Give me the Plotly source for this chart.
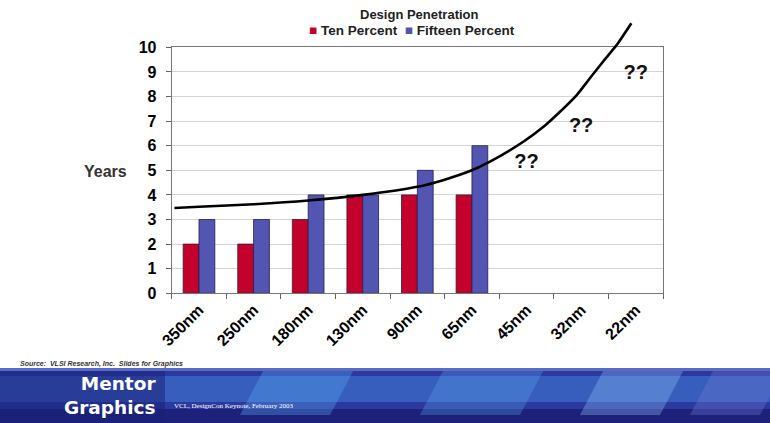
import plotly.graph_objects as go

# ---- data -------------------------------------------------------------
nodes = ["350nm", "250nm", "180nm", "130nm", "90nm", "65nm", "45nm", "32nm", "22nm"]
ten_percent = [2, 2, 3, 4, 4, 4, None, None, None]
fifteen_percent = [3, 3, 4, 4, 5, 6, None, None, None]

# trend curve: position along the node axis (0 = 350nm) and years
trend_pos = [-0.45, 0, 1, 2, 3, 4, 4.47, 5, 5.33, 5.94, 6.31, 6.55, 6.92, 7.16, 7.40, 7.65, 7.92]
trend_years = [3.47, 3.52, 3.62, 3.77, 4.0, 4.33, 4.6, 5.0, 5.35, 6.16, 6.77, 7.25, 8.06, 8.74, 9.41, 10.09, 10.98]

# unknown future nodes
unknown_nodes = ["45nm", "32nm", "22nm"]
unknown_years = [5.3, 6.75, 8.9]
unknown_text = ["??", "??", "??"]

series_names = ["Ten Percent", "Fifteen Percent"]
series_colors = ["#c4002c", "#5355b2"]

W, H = 770, 423
FONT = "Liberation Sans, Arial, sans-serif"

x_dom = [171.7 / W, 663 / W]
y_dom = [(H - 293.3) / H, (H - 47.3) / H]
y2_top = 1.0
y2_max = 10 * (y2_top - y_dom[0]) / (y_dom[1] - y_dom[0])


def py(p):
    return 1 - p / H


fig = go.Figure()

fig.add_trace(go.Bar(
    x=nodes, y=ten_percent, name=series_names[0], showlegend=False,
    marker=dict(color=series_colors[0], line=dict(color="#3a1a20", width=0.8)),
))
fig.add_trace(go.Bar(
    x=nodes, y=fifteen_percent, name=series_names[1], showlegend=False,
    marker=dict(color=series_colors[1], line=dict(color="#202050", width=0.8)),
))

# trend line lives on a taller overlay so it can run past the top gridline
fig.add_trace(go.Scatter(
    x=trend_pos, y=trend_years, mode="lines", xaxis="x2", yaxis="y2",
    line=dict(color="black", width=2.6, shape="spline", smoothing=0.6),
    showlegend=False, hoverinfo="skip",
))

fig.add_trace(go.Scatter(
    x=unknown_nodes, y=unknown_years, mode="text", text=unknown_text,
    textfont=dict(family=FONT, size=20, color="#111", weight="bold"),
    showlegend=False, hoverinfo="skip", cliponaxis=False,
))

# ---- banner ----------------------------------------------------------
shapes = []
top = 368

shapes.append(dict(type="rect", xref="paper", yref="paper", x0=0, x1=1,
                   y0=py(H), y1=py(top), fillcolor="#2c3aa0", line_width=0, layer="above"))
shapes.append(dict(type="rect", xref="paper", yref="paper", x0=0, x1=1,
                   y0=py(402), y1=py(376), fillcolor="rgba(70,140,225,0.45)", line_width=0, layer="above"))
shapes.append(dict(type="rect", xref="paper", yref="paper", x0=0, x1=1,
                   y0=py(H), y1=py(409), fillcolor="rgba(25,25,110,0.75)", line_width=0, layer="above"))
shapes.append(dict(type="rect", xref="paper", yref="paper", x0=0, x1=1,
                   y0=py(371), y1=py(top), fillcolor="rgba(120,140,220,0.6)", line_width=0, layer="above"))
for (xa, xb, col) in [(240 / W, 330 / W, "rgba(90,170,240,0.35)"),
                      (420 / W, 520 / W, "rgba(90,170,240,0.30)"),
                      (580 / W, 660 / W, "rgba(140,190,245,0.35)"),
                      (690 / W, 760 / W, "rgba(110,120,210,0.35)")]:
    shapes.append(dict(
        type="path", xref="paper", yref="paper",
        path=f"M {xa + 0.03} {py(371)} L {xb + 0.03} {py(371)} L {xb} {py(415)} L {xa} {py(415)} Z",
        fillcolor=col, line_width=0, layer="above"))
shapes.append(dict(type="rect", xref="paper", yref="paper", x0=0, x1=165 / W,
                   y0=py(H), y1=py(371), fillcolor="rgba(25,35,120,0.55)", line_width=0, layer="above"))

legend_text = "  ".join(
    f"<span style='color:{c}'>■</span> <b>{n}</b>" for n, c in zip(series_names, series_colors)
)


def note(text, x, y, size, color="#222", family=FONT, xanchor="center", align="center"):
    return dict(text=text, x=x / W, y=py(y), xref="paper", yref="paper",
                xanchor=xanchor, yanchor="middle", showarrow=False, align=align,
                font=dict(family=family, size=size, color=color))


annotations = [
    note("<b>Design Penetration</b>", 420, 14, 13),
    note(legend_text, 412, 31, 13.5),
    note("<b>Years</b>", 106, 172, 16, "#333"),
    note("<i><b>Source:  VLSI Research, Inc.  Slides for Graphics</b></i>", 18, 364, 7, "#333",
         xanchor="left"),
    note("<b>Mentor<br>Graphics</b>", 158, 395, 18.5, "white", "DejaVu Sans, sans-serif",
         "right", "right"),
    note("VCL, DesignCon Keynote, February 2003", 172, 406, 7, "white",
         "Liberation Serif, serif", "left"),
]

fig.update_layout(
    width=W, height=H,
    margin=dict(l=0, r=0, t=0, b=0),
    paper_bgcolor="white", plot_bgcolor="rgba(0,0,0,0)",
    barmode="group", bargap=0.42, bargroupgap=0,
    font=dict(family=FONT, color="black"),
    showlegend=False,
    xaxis=dict(domain=x_dom, type="category", categoryorder="array", categoryarray=nodes,
               range=[-0.5, 8.5], tickangle=-45, tickson="boundaries", ticks="outside",
               ticklen=5, tickcolor="#666", showline=True, linecolor="#777", mirror=True,
               showgrid=False, automargin=False,
               tickfont=dict(family=FONT, size=16, color="black", weight="bold"),
               anchor="y"),
    yaxis=dict(domain=y_dom, range=[0, 10], dtick=1, ticks="outside", ticklen=5,
               tickcolor="#666", showline=True, linecolor="#777", mirror=True,
               gridcolor="#d4d4d4", zeroline=False, ticklabelstandoff=6, automargin=False,
               tickfont=dict(family=FONT, size=16, color="black", weight="bold"), anchor="x"),
    xaxis2=dict(domain=x_dom, range=[-0.5, 8.5], visible=False, anchor="y2"),
    yaxis2=dict(domain=[y_dom[0], y2_top], range=[0, y2_max], visible=False, anchor="x2"),
    shapes=shapes,
    annotations=annotations,
)

fig.write_html("out.html")
